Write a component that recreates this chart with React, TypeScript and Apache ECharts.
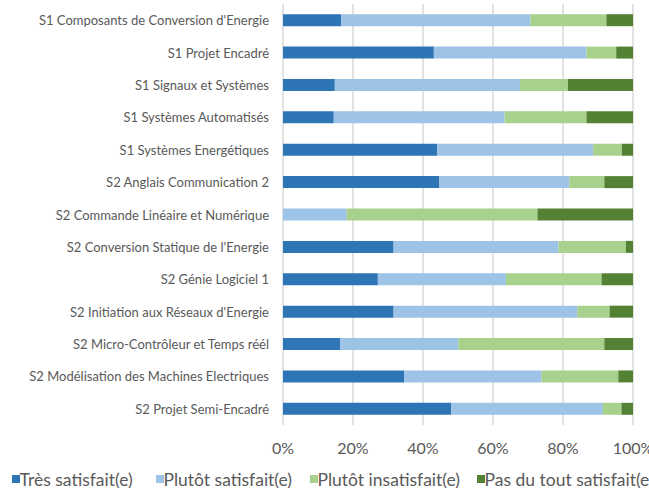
import React, { useEffect, useRef } from "react";
import * as echarts from "echarts";

const categories = [
  "S1 Composants de Conversion d'Energie",
  "S1 Projet Encadré",
  "S1 Signaux et Systèmes",
  "S1 Systèmes Automatisés",
  "S1 Systèmes Energétiques",
  "S2 Anglais Communication 2",
  "S2 Commande Linéaire et Numérique",
  "S2 Conversion Statique de l'Energie",
  "S2 Génie Logiciel 1",
  "S2 Initiation aux Réseaux d'Energie",
  "S2 Micro-Contrôleur et Temps réél",
  "S2 Modélisation des Machines Electriques",
  "S2 Projet Semi-Encadré",
];

const seriesNames = [
  "Très satisfait(e)",
  "Plutôt satisfait(e)",
  "Plutôt insatisfait(e)",
  "Pas du tout satisfait(e)",
];

const tresSatisfait = [16.6, 43.1, 14.8, 14.5, 44.1, 44.7, 0, 31.6, 27.1, 31.6, 16.4, 34.6, 48.1];
const plutotSatisfait = [54.1, 43.6, 52.9, 48.8, 44.5, 37.1, 18.2, 47.1, 36.6, 52.5, 33.7, 39.3, 43.3];
const plutotInsatisfait = [21.7, 8.5, 13.7, 23.4, 8.2, 10.0, 54.5, 19.3, 27.3, 9.2, 41.7, 21.9, 5.3];
const pasDuTout = [7.6, 4.8, 18.6, 13.3, 3.2, 8.2, 27.3, 2.0, 9.0, 6.7, 8.2, 4.2, 3.3];

const colors = ["#2E75B6", "#9DC3E6", "#A9D18E", "#548235"];
const legendLefts = [12, 156, 310, 477];
const FONT = "Lato, 'Noto Sans', sans-serif";
const TEXT = "#595959";

export default function App() {
  const ref = useRef<HTMLDivElement>(null);
  useEffect(() => {
    if (!ref.current) return;
    const chart = echarts.init(ref.current, undefined, { renderer: "svg", width: 649, height: 488 });
    const values = [tresSatisfait, plutotSatisfait, plutotInsatisfait, pasDuTout];
    chart.setOption({
      animation: false,
      color: colors,
      textStyle: { fontFamily: FONT },
      grid: {
        left: 283,
        width: 350,
        top: 4,
        bottom: 63,
        containLabel: false,
        outerBoundsMode: "none",
      },
      legend: seriesNames.map((n, i) => ({
        data: [n],
        left: legendLefts[i],
        top: 470,
        padding: 0,
        itemWidth: 8,
        itemHeight: 8,
        icon: "rect",
        selectedMode: false,
        textStyle: {
          fontFamily: FONT,
          fontSize: 17.5,
          lineHeight: 17,
          color: TEXT,
          padding: [0, 0, 0, -5.5],
        },
      })),
      xAxis: {
        type: "value",
        min: 0,
        max: 100,
        interval: 20,
        axisLine: { show: false },
        axisTick: { show: false },
        axisLabel: {
          formatter: "{value}%",
          color: TEXT,
          fontFamily: FONT,
          fontSize: 16,
          margin: 14,
        },
        splitLine: { show: true, lineStyle: { color: "#D9D9D9", width: 1.5 } },
      },
      yAxis: {
        type: "category",
        data: categories,
        inverse: true,
        axisLine: { show: false },
        axisTick: { show: false },
        axisLabel: {
          color: TEXT,
          fontFamily: FONT,
          fontSize: 13,
          margin: 14,
        },
      },
      series: seriesNames.map((n, i) => ({
        name: n,
        type: "bar",
        stack: "total",
        barWidth: 12,
        data: values[i],
        itemStyle: { color: colors[i] },
      })),
    });
    return () => chart.dispose();
  }, []);
  return (
    <div
      ref={ref}
      style={{ position: "absolute", left: 0, top: 0, width: 649, height: 488, background: "#fff" }}
    />
  );
}
